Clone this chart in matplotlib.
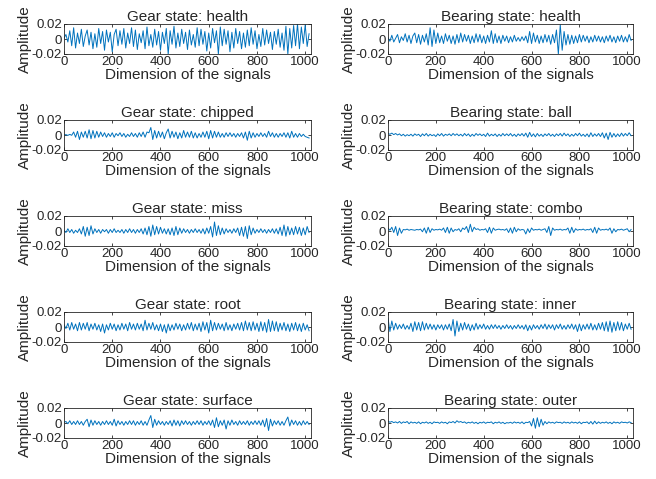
import numpy as np
import matplotlib
matplotlib.use("Agg")
import matplotlib.pyplot as plt

plt.rcParams['font.family'] = ['Liberation Sans', 'DejaVu Sans']

# signals, every 8 samples, in units of 1e-4
gear_health = [10, 60, -40, 110, -90, 150, -120, 80, -60, 130, -100, 40, 120, -80, 90, -130,
               70, -110, 140, -60, 100, -150, 120, -40, 90, -170, 60, 130, -90, 110, -70, 140,
               -120, 80, -60, 150, -100, 120, -140, 70, -50, 110, -130, 160, -90, 60, -110, 130,
               -80, 100, -150, 90, -60, 140, -200, 110, -70, 170, -120, 80, -100, 130, -60, 90,
               -140, 120, -80, 60, -110, 150, -90, 130, -70, 100, -160, 80, -120, 140, -50, 110,
               -200, 160, -90, 130, -70, 110, -170, 90, -120, 140, -60, 100, -130, 80, -110, 120,
               -90, 150, -70, 110, -130, 60, -100, 140, -80, 120, -60, 90, -140, 100, -70, 130,
               -110, 80, -150, 170, -200, 140, -120, 180, -90, 200, -130, 160, -60, 190, -100, 70]
bearing_health = [20, -30, 50, -40, 10, 60, -50, 30, -20, 70, -40, 50, -60, 40, 80, -50,
                  60, -70, 50, -40, 70, -80, 150, -100, 120, -60, 80, -50, 40, -60, 70, -30,
                  50, -60, 40, -70, 60, -50, 80, -40, 60, -30, 50, -60, 40, -50, 70, -40,
                  60, -50, 40, -60, 50, -40, 110, -60, 70, -50, 40, -60, 50, -30, 40, -50,
                  30, -40, 50, -30, 20, -30, 30, -20, 40, -50, 100, -60, 80, -40, 50, -60,
                  40, -50, 60, -40, 50, -70, 60, -50, 120, -200, 190, -150, 100, -80, 60, -70,
                  50, -60, 40, -50, 60, -40, 50, -30, 40, -50, 30, -40, 50, -30, 40, -40,
                  30, -50, 40, -30, 50, -40, 30, -50, 40, -30, 50, -40, 30, -40, 60, -20]
gear_chipped = [0, 5, -5, 8, -4, 40, -30, 50, -60, 40, -30, 50, -40, 70, -50, 60,
                -40, 50, -30, 40, -20, 30, -30, 20, -20, 30, -30, 20, -10, 30, -20, 20,
                -30, 10, -20, 30, -20, 20, -30, 30, -20, 40, -30, 40, 30, 100, -60, 60,
                -40, 50, -30, 40, -50, 30, 80, -40, 50, -30, 40, -50, 30, -40, 60, -30,
                40, -30, 50, -40, 30, -40, 20, -30, 40, -30, 50, -50, 60, -40, 50, -30,
                40, -30, 20, -30, 30, -20, 30, -20, 20, -30, 20, -20, 30, -40, 40, -70,
                50, -40, 30, -30, 20, -20, 30, -20, 20, -30, 50, -20, 30, -30, 20, -30,
                20, -20, 30, -30, 30, -40, 50, -30, 20, -30, 20, -20, 10, -20, -30, -40]
bearing_ball = [20, 10, 25, 5, 20, 0, 15, -10, 10, -15, 5, -10, 10, -15, 15, -5,
                10, -20, 15, -10, 20, -15, 10, -10, 5, -20, 15, -10, 20, -15, 10, -5,
                15, -10, 20, -5, 15, -10, 10, -15, 20, -10, 15, -20, 10, -15, 20, -5,
                15, -10, 10, -20, 25, -15, 10, -10, 15, -20, 10, -15, 20, -10, 15, -10,
                20, -15, 10, -20, 15, -10, 20, -15, 25, -30, 35, -20, 15, -25, 20, -15,
                10, -20, 15, -10, 20, -15, 10, -20, 15, -10, 20, -15, 25, -10, 15, -20,
                10, -15, 20, -10, 25, -15, 10, -20, 15, -25, 30, -20, 15, -15, 20, -20,
                30, -40, 25, -60, 35, -30, 20, -25, 15, -20, 25, -15, 20, -10, 30, -10]
gear_miss = [10, -20, 30, -20, 20, -30, 10, -20, 30, -40, 60, -70, 50, -60, 70, -40,
             30, -20, 20, -30, 20, -10, 20, -30, 20, -20, 30, -20, 10, -20, 20, -30,
             20, -20, 30, -20, 20, -30, 20, -20, 30, -40, 40, -50, 60, -70, 80, -50,
             60, -40, 50, -30, 30, -40, 30, -50, 40, -60, 60, -50, 40, -30, 30, -20,
             20, -30, 20, -20, 30, -20, 20, -30, 30, -40, 40, -30, 60, -80, 120, -60,
             70, -50, 40, -40, 30, -20, 20, -30, 30, -20, 40, -60, 50, -70, 60, -100,
             70, -50, 40, -30, 20, -20, 30, -20, 20, -30, 20, -20, 30, -30, 30, -40,
             50, -60, 80, -70, 60, -50, 40, -50, 60, -40, 50, -60, 40, -50, 60, -20]
bearing_combo = [40, 10, 50, -20, 60, -60, 40, -30, 20, 15, 25, 10, 20, 15, 10, 20,
                 15, 25, -10, 40, -30, 50, -20, 30, 10, 20, 15, 25, 10, 40, -20, 50,
                 -30, 40, -10, 20, 10, 30, -10, 40, 20, 60, -20, 90, -10, 50, 20, 30,
                 10, 20, 15, 30, -20, 50, -30, 40, 10, 20, 25, 15, 20, 10, 30, -20,
                 40, -30, 50, -10, 30, 10, 20, 15, -40, 30, -20, 40, 10, 20, 15, 25,
                 10, 20, 30, -20, 60, -60, 40, 10, 20, 15, 25, 10, 20, 15, 40, -30,
                 50, -20, 30, 10, 20, 15, 25, 10, 20, 15, 30, -20, 50, -30, 40, 10,
                 20, 15, 25, 10, 40, -30, 30, -10, 20, 15, 25, 10, 20, 30, -10, 20]
gear_root = [30, -20, 50, -40, 60, -30, 40, -50, 60, -40, 50, -30, 60, -50, 40, -30,
             50, -40, 30, -60, 40, -80, 30, -40, 50, -30, 40, -50, 30, -40, 50, -30,
             40, -50, 60, -30, 40, -40, 50, -30, 40, -50, 90, -40, 50, -30, 60, -40,
             30, -50, 40, -60, 30, -80, 40, -50, 30, -40, 50, -30, 40, -50, 30, -40,
             50, -30, 60, -50, 40, -40, 50, -60, 70, -40, 60, -80, 90, -50, 60, -40,
             50, -30, 40, -50, 60, -40, 30, -50, 40, -30, 50, -40, 60, -50, 80, -40,
             60, -50, 70, -40, 50, -60, 70, -50, 60, -70, 100, -60, 80, -50, 70, -60,
             50, -40, 60, -50, 40, -60, 50, -40, 60, -50, 40, -60, 50, -40, 30, -50]
bearing_inner = [120, -60, 80, -40, 50, -30, 30, -20, 40, -30, 20, -30, 50, -60, 70, -40,
                 60, -50, 70, -40, 50, -30, 40, -30, 30, -40, 30, -20, 30, -40, 30, -30,
                 40, -50, 100, -120, 80, -60, 50, -40, 60, -30, 40, -50, 30, -40, 50, -30,
                 30, -20, 40, -30, 20, -30, 30, -20, 30, -20, 20, -30, 20, -20, 30, -20,
                 20, -30, 20, -20, 30, -20, 20, -30, 30, -50, 20, -40, 30, -20, 20, -30,
                 30, -20, 40, -30, 30, -20, 30, -40, 30, -20, 40, -30, 20, -30, 30, -20,
                 40, -30, 30, -60, 40, -50, 30, -30, 40, -30, 50, -40, 30, -40, 50, -30,
                 60, -50, 70, -60, 80, -70, 60, -50, 70, -40, 60, -50, 40, -30, 50, -30]
gear_surface = [10, 20, -10, 30, -20, 20, -20, 30, -20, 20, -30, 20, 50, -50, 40, -30,
                30, -20, 20, -30, 20, -20, 30, -20, 20, -30, 50, -40, 30, -20, 20, -30,
                20, -20, 30, -20, 30, -30, 20, -20, 30, -30, 20, -30, 40, 100, -60, 50,
                -30, 30, -20, 20, -30, 20, -20, 30, -40, 40, -30, 30, -40, 30, -20, 30,
                -20, 20, -30, 20, -20, 30, -20, 30, -30, 20, -20, 30, -30, 40, -60, 70,
                -50, 30, -30, 40, -80, 30, -30, 40, -20, 20, -30, 30, -20, 20, -20, 30,
                -30, 20, -20, 30, -20, 30, -30, 40, -50, 60, -100, 50, -40, 30, -20, 30,
                -30, 20, -30, 30, 80, -40, 40, -20, 30, -30, 20, -30, 30, -20, 20, -20]
bearing_outer = [25, 10, 20, 5, 15, 0, 20, -5, 15, 5, 20, -10, 15, 0, 10, -5,
                 15, -10, 10, 0, 15, -5, 10, -10, 15, 5, 10, -5, 15, 0, 10, -10,
                 15, 5, 20, 0, 30, 10, 20, 5, 15, -5, 10, 0, 15, -5, 10, -10,
                 10, 0, 15, -5, 10, 5, 15, -10, 10, 0, 15, -5, 10, -10, 5, 0,
                 10, -5, 15, 0, 10, -5, 15, -10, 10, 5, 20, -40, 60, -70, 70, -50,
                 50, -30, 20, -10, 15, 0, 10, -5, 15, 5, 10, -5, 15, 0, 10, -5,
                 15, 0, 10, -5, 15, -10, 10, 5, 15, -10, 20, -15, 25, -10, 15, -5,
                 10, 0, 15, -5, 10, -10, 15, 0, 10, -5, 15, 5, 10, 0, 15, 5]

gear_titles = ["health", "chipped", "miss", "root", "surface"]
bearing_titles = ["health", "ball", "combo", "inner", "outer"]
gear_sig = [gear_health, gear_chipped, gear_miss, gear_root, gear_surface]
bearing_sig = [bearing_health, bearing_ball, bearing_combo, bearing_inner, bearing_outer]

step = 8
clr = '#0072BD'
txt = '#262626'

fig = plt.figure(figsize=(6.56, 4.79), dpi=100)
W, H = 656.0, 479.0
tops = [24, 120, 216, 312, 408]
ah = 30

def panel(left, width, top, sig, title):
    ax = fig.add_axes([left / W, 1 - (top + ah) / H, width / W, ah / H])
    y = np.array(sig) * 1e-4
    x = np.arange(len(y)) * step
    ax.plot(x, y, color=clr, lw=0.7)
    ax.set_xlim(0, 1024)
    ax.set_ylim(-0.02, 0.02)
    ax.set_xticks([0, 200, 400, 600, 800, 1000])
    ax.set_yticks([-0.02, 0, 0.02])
    ax.set_yticklabels(['-0.02', '0', '0.02'])
    ax.tick_params(direction='in', length=2.5, width=0.6, labelsize=9.5,
                   colors=txt, top=True, right=True, pad=1.5)
    for s in ax.spines.values():
        s.set_color(txt)
        s.set_linewidth(0.6)
    ax.set_title(title, fontsize=11, color=txt, pad=2)
    ax.set_xlabel("Dimension of the signals", fontsize=11, color=txt, labelpad=0)
    ax.set_ylabel("Amplitude", fontsize=11, color=txt, labelpad=0)
    return ax

for i in range(5):
    panel(64, 247, tops[i], gear_sig[i], "Gear state: " + gear_titles[i])
    panel(388, 245, tops[i], bearing_sig[i], "Bearing state: " + bearing_titles[i])

fig.savefig("out.png", dpi=100)
